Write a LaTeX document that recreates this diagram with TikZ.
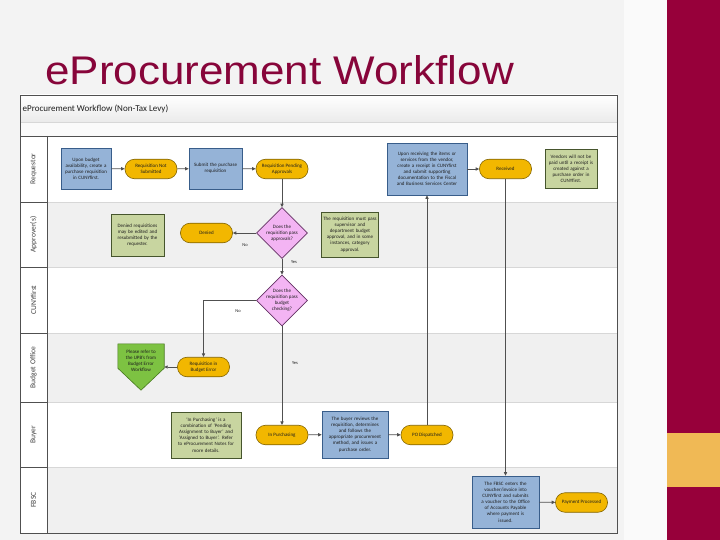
\documentclass[tikz,border=0pt]{standalone}
\usepackage{fontspec}
\setmainfont{Carlito}
\newfontfamily\titlefont{Liberation Sans}
\usetikzlibrary{shapes.misc,shapes.geometric,arrows.meta,calc}

\definecolor{crimson}{RGB}{151,0,58}
\definecolor{goldband}{RGB}{240,185,85}
\definecolor{slidebg}{RGB}{243,243,243}
\definecolor{titlered}{RGB}{135,5,58}
\definecolor{lanegrey}{RGB}{240,240,240}
\definecolor{laneline}{RGB}{215,215,215}
\definecolor{frameline}{RGB}{80,80,80}
\definecolor{bluefill}{RGB}{149,179,215}
\definecolor{blueline}{RGB}{56,93,138}
\definecolor{yelfill}{RGB}{242,183,0}
\definecolor{yelline}{RGB}{130,100,0}
\definecolor{notefill}{RGB}{200,213,160}
\definecolor{noteline}{RGB}{70,85,45}
\definecolor{pentfill}{RGB}{125,194,66}
\definecolor{pentline}{RGB}{70,120,30}
\definecolor{diafill}{RGB}{243,180,243}
\definecolor{dialine}{RGB}{100,50,100}
\definecolor{conn}{RGB}{80,80,80}
\definecolor{txt}{RGB}{30,30,30}

\tikzset{
 small/.style={font=\fontsize{5}{6.1}\selectfont, text=txt, align=center},
 bluebox/.style={small, draw=blueline, fill=bluefill, line width=0.6pt, inner sep=1pt},
 yelbox/.style={small, rectangle, rounded corners=9.5pt, draw=yelline, fill=yelfill, line width=0.6pt, inner sep=1pt, minimum width=52pt, minimum height=19.5pt},
 notebox/.style={small, draw=noteline, fill=notefill, line width=0.6pt, inner sep=1pt},
 diabox/.style={diamond, draw=dialine, fill=diafill, line width=0.6pt, inner sep=0pt, minimum width=51pt, minimum height=51pt},
 pentbox/.style={draw=pentline, fill=pentfill, line width=0.6pt},
 flow/.style={draw=conn, line width=0.8pt, -{Triangle[length=3.5pt,width=3.2pt]}},
 lanelabel/.style={rotate=90, font=\fontsize{7.5}{9}\selectfont, text=txt!85},
 edgelab/.style={font=\fontsize{4.5}{5}\selectfont, text=txt, inner sep=0pt}
}

\begin{document}
\begin{tikzpicture}[x=1pt,y=-1pt]
\useasboundingbox (0,0) rectangle (720,540);
% slide background
\fill[slidebg] (0,0) rectangle (720,540);
\fill[white!55!slidebg] (624,0) rectangle (667,540);
\fill[crimson] (667,0) rectangle (720,540);
\fill[goldband] (667,433) rectangle (720,487);
\node[anchor=base west, font=\titlefont\fontsize{40}{46}\selectfont, text=titlered, inner sep=0pt, xscale=1.1] (title) at (45,85) {eProcurement Workflow};

% diagram frame
\fill[white] (20,95) rectangle (617,533);
\shade[top color=white, bottom color=black!8] (20,95) rectangle (617,122);
\fill[black!2] (20,122) rectangle (617,136);
\fill[lanegrey] (47,202) rectangle (617,267);
\fill[lanegrey] (47,333) rectangle (617,402);
\fill[lanegrey] (47,467) rectangle (617,533);
\foreach \yy in {202,267,333,402,467} {
  \draw[laneline, line width=0.5pt] (47,\yy) -- (617,\yy);
  \draw[frameline, line width=0.7pt] (20,\yy) -- (47,\yy);
}
\draw[laneline, line width=0.5pt] (20,122) -- (617,122);
\draw[frameline, line width=0.8pt] (20,136) -- (617,136);
\draw[frameline, line width=0.8pt] (47,136) -- (47,533);
\draw[frameline, line width=0.8pt] (20,95) rectangle (617,533);
\node[anchor=west, font=\fontsize{9}{10}\selectfont, inner sep=0pt, text=txt] (dtitle) at (22.5,108.5) {eProcurement Workflow (Non-Tax Levy)};

% lane labels
\node[lanelabel] (lreq) at (33.5,169) {Requestor};
\node[lanelabel] (lapp) at (33.5,234.5) {Approver(s)};
\node[lanelabel] (lcf) at (33.5,300) {CUNYfirst};
\node[lanelabel] (lbo) at (33.5,367.5) {Budget Office};
\node[lanelabel] (lbuy) at (33.5,434.5) {Buyer};
\node[lanelabel] (lfb) at (33.5,500) {FBSC};

% Requestor lane
\node[bluebox, text width=48pt, minimum height=41pt] (b1) at (86,168.5) {Upon budget\\availability, create a\\purchase requisition\\in CUNYfirst.};
\node[yelbox] (ns) at (151,169) {Requisition Not\\Submitted};
\node[bluebox, text width=51pt, minimum height=41pt] (sub) at (215.5,168.5) {Submit the purchase\\requisition};
\node[yelbox] (pend) at (282,169) {Requisition Pending\\Approvals};
\node[bluebox, text width=78pt, minimum height=52pt] (rec) at (427,169) {Upon receiving the items or\\services from the vendor,\\create a receipt in CUNYfirst\\and submit supporting\\documentation to the Fiscal\\and Business Services Center};
\node[yelbox] (rcv) at (505.5,169) {Received};
\node[notebox, text width=50pt, minimum height=39pt] (vn) at (571,168.5) {Vendors will not be\\paid until a receipt is\\created against a\\purchase order in\\CUNYfirst.};

% Approver lane
\node[notebox, text width=51pt, minimum height=42pt] (dn) at (137.5,235) {Denied requisitions\\may be edited and\\resubmitted by the\\requester.};
\node[yelbox] (den) at (206.5,233) {Denied};
\node[diabox] (d1) at (282,233) {};
\node[small] (d1t) at (d1) {Does the\\requisition pass\\approvals?};
\node[notebox, text width=55pt, minimum height=45pt] (an) at (350,234.5) {The requisition must pass\\supervisor and\\department budget\\approval, and in some\\instances, category\\approval.};

% CUNYfirst lane
\node[diabox] (d2) at (282,300.5) {};
\node[small] (d2t) at (d2) {Does the\\requisition pass\\budget\\checking?};

% Budget Office lane
\node[yelbox] (berr) at (203.5,367) {Requisition in\\Budget Error};
\node[minimum width=46pt, minimum height=24pt, inner sep=0pt] (pent) at (141,356) {};
\draw[pentbox] (pent.north west) -- (pent.north east) -- (pent.south east) -- ($(pent.south)+(0,22)$) -- (pent.south west) -- cycle;
\node[small] (pentt) at (141,361) {Please refer to\\the UPB's from\\Budget Error\\Workflow};

% Buyer lane
\node[notebox, text width=68pt, minimum height=46pt] (ipn) at (206,435) {‘In Purchasing’ is a\\combination of ‘Pending\\Assignment to Buyer’ and\\‘Assigned to Buyer’. Refer\\to eProcurement Notes for\\more details.};
\node[yelbox] (inp) at (282,435) {In Purchasing};
\node[bluebox, text width=64pt, minimum height=47pt] (buy) at (355,434.5) {The buyer reviews the\\requisition, determines\\and follows the\\appropriate procurement\\method, and issues a\\purchase order.};
\node[yelbox] (po) at (427,435) {PO Dispatched};

% FBSC lane
\node[bluebox, text width=65pt, minimum height=52pt] (fb) at (505.5,502) {The FBSC enters the\\voucher/invoice into\\CUNYfirst and submits\\a voucher to the Office\\of Accounts Payable\\where payment is\\issued.};
\node[yelbox] (pay) at (581.5,502.5) {Payment Processed};

% connectors
\draw[flow] (b1) -- (ns);
\draw[flow] (ns) -- (sub);
\draw[flow] (sub) -- (pend);
\draw[flow] (pend) -- (d1);
\draw[flow] (d1.west) -- (den.east);
\draw[flow] (d1.south) -- (d2.north);
\draw[flow] (d2.west) -| (berr.north);
\draw[flow] (d2.south) -- (inp.north);
\draw[flow] (berr.west) -- (berr.west -| pent.east);
\draw[flow] (inp) -- (buy);
\draw[flow] (buy) -- (po);
\draw[flow] (po.north) -- (rec.south);
\draw[flow] (rec) -- (rcv);
\draw[flow] (rcv.south) -- (fb.north);
\draw[flow] (fb) -- (pay);

% edge labels
\node[edgelab] (no1) at (245,245) {No};
\node[edgelab] (yes1) at (294,262) {Yes};
\node[edgelab] (no2) at (238,311) {No};
\node[edgelab] (yes2) at (295,363) {Yes};
\end{tikzpicture}
\end{document}
